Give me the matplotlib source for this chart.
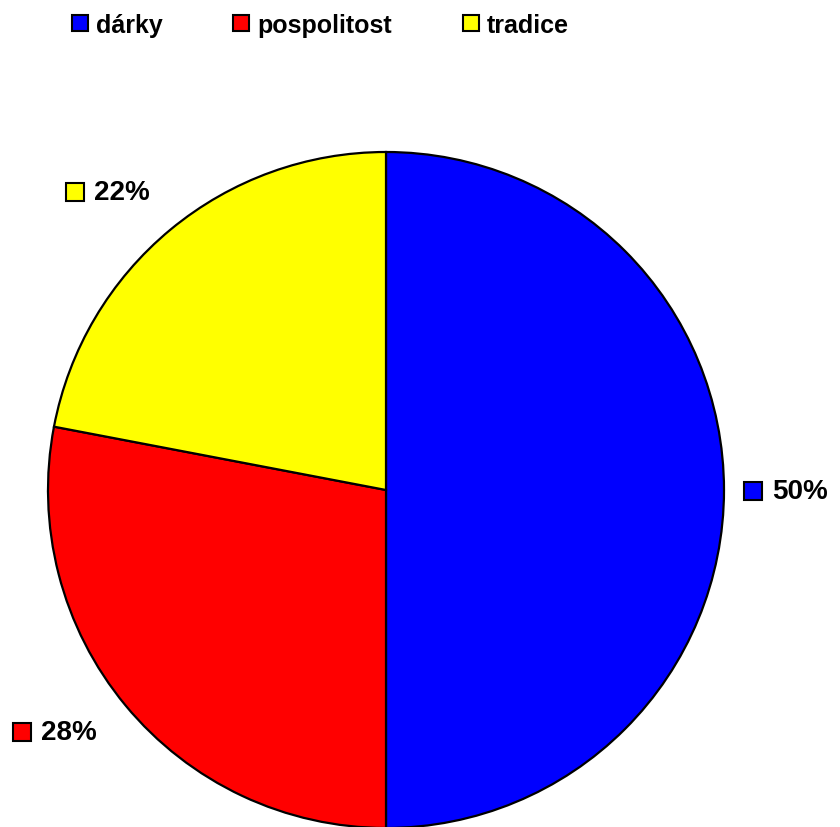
import matplotlib.pyplot as plt
from matplotlib.patches import Rectangle

plt.rcParams['font.family'] = ['Liberation Sans', 'DejaVu Sans']

categories = ["dárky", "pospolitost", "tradice"]
shares = [50, 28, 22]
colors = ["#0000ff", "#ff0000", "#ffff00"]

W, H = 840, 828

fig = plt.figure(figsize=(8.4, 8.28), dpi=100)
ax = fig.add_axes([0, 0, 1, 1])
ax.pie(shares, colors=colors, startangle=90, counterclock=False,
       center=(386, H - 491), radius=338,
       wedgeprops=dict(edgecolor="black", linewidth=1.6))
ax.set_xlim(0, W)
ax.set_ylim(0, H)
ax.axis("off")

# legend across the top (marker left x, centre y in pixels)
legend_x = [72, 233, 463]
for x, name, c in zip(legend_x, categories, colors):
    ax.add_patch(Rectangle((x, H - 24 - 8), 16, 16, facecolor=c,
                           edgecolor="black", linewidth=1.5, clip_on=False))
    ax.text(x + 24, H - 26, name, fontsize=18, fontweight="bold",
            ha="left", va="center")

# percentage labels next to the slices
label_pos = [(744, 492), (13, 733), (66, 193)]
for (x, y), v, c in zip(label_pos, shares, colors):
    ax.add_patch(Rectangle((x, H - y - 9), 18, 18, facecolor=c,
                           edgecolor="black", linewidth=1.5, clip_on=False))
    ax.text(x + 28, H - y, f"{v}%", fontsize=20, fontweight="bold",
            ha="left", va="center")

fig.savefig("out.png", dpi=100)
